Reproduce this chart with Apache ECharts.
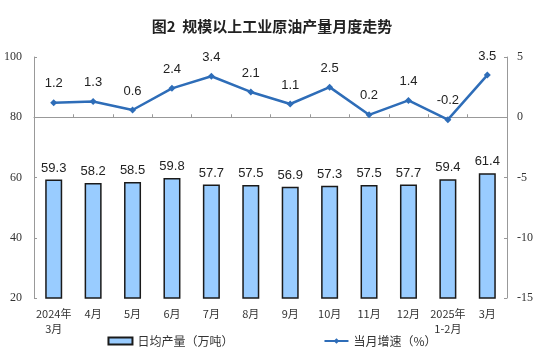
<!DOCTYPE html>
<html><head><meta charset="utf-8">
<script src="https://cdn.jsdelivr.net/npm/echarts@6/dist/echarts.min.js"></script>
<style>html,body{margin:0;padding:0;background:#fff}#c{width:544px;height:362px}</style>
</head><body><div id="c"></div>
<script>
const categories = ['2024年\n3月','4月','5月','6月','7月','8月','9月','10月','11月','12月','2025年\n1-2月','3月'];
const dailyOutput = [59.3,58.2,58.5,59.8,57.7,57.5,56.9,57.3,57.5,57.7,59.4,61.4];
const growth = [1.2,1.3,0.6,2.4,3.4,2.1,1.1,2.5,0.2,1.4,-0.2,3.5];
const leftTicks = [20,40,60,80,100];
const rightTicks = [-15,-10,-5,0,5];

const chart = echarts.init(document.getElementById('c'));
const axisFont = {fontFamily:'Liberation Serif', fontSize:12, color:'#333'};
chart.setOption({
  animation:false,
  title:{text:'图2  规模以上工业原油产量月度走势', left:'center', top:14,
    textStyle:{fontFamily:'Noto Sans CJK SC', fontSize:15, fontWeight:'bold', color:'#222'}},
  grid:{left:34, right:37, top:57, bottom:64},
  legend:{bottom:10, left:'center', itemGap:90, itemWidth:24, itemHeight:7,
    textStyle:{fontFamily:'Noto Sans CJK SC', fontSize:12, color:'#333'},
    data:[{name:'日均产量（万吨）', icon:'rect'},{name:'当月增速（%）'}]},
  xAxis:{type:'category', data:categories,
    axisLine:{lineStyle:{color:'#999'}},
    axisTick:{show:true, inside:true, length:3, lineStyle:{color:'#999'}},
    axisLabel:{fontFamily:'Noto Sans CJK SC', fontSize:11, color:'#333', margin:8, interval:0, lineHeight:15}},
  yAxis:[
    {type:'value', min:leftTicks[0], max:leftTicks[leftTicks.length-1], interval:20,
     axisLine:{show:true, lineStyle:{color:'#999'}},
     axisTick:{show:true, inside:true, length:3, lineStyle:{color:'#999'}},
     splitLine:{show:false}, axisLabel:Object.assign({margin:12}, axisFont)},
    {type:'value', min:rightTicks[0], max:rightTicks[rightTicks.length-1], interval:5,
     axisLine:{show:true, lineStyle:{color:'#999'}},
     axisTick:{show:true, inside:true, length:3, lineStyle:{color:'#999'}},
     splitLine:{show:false}, axisLabel:Object.assign({margin:10}, axisFont)}
  ],
  series:[
    {name:'日均产量（万吨）', type:'bar', data:dailyOutput, barWidth:17,
     itemStyle:{color:'#99CCFF', borderColor:'#1a1a1a', borderWidth:1.5},
     label:{show:true, position:'top', distance:5, fontFamily:'Liberation Sans', fontSize:13, color:'#222'}},
    {name:'当月增速（%）', type:'line', yAxisIndex:1, data:growth,
     symbol:'diamond', symbolSize:7,
     lineStyle:{color:'#2E6DB8', width:2.5}, itemStyle:{color:'#2E6DB8'},
     label:{show:true, position:'top', distance:9, fontFamily:'Liberation Sans', fontSize:13, color:'#222'}}
  ]
});
</script></body></html>
